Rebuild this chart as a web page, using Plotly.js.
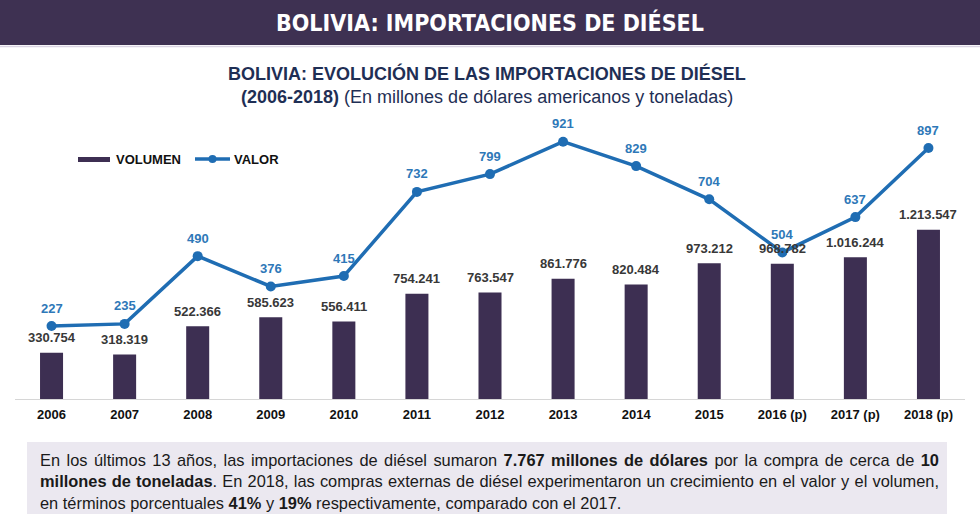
<!DOCTYPE html>
<html>
<head>
<meta charset="utf-8">
<script src="https://cdn.plot.ly/plotly-3.0.1.min.js"></script>
<style>
  html, body { margin: 0; padding: 0; background: #ffffff; }
  #chart { width: 980px; height: 529px; }
</style>
</head>
<body>
<div id="chart"></div>
<script>
// Bolivia diesel imports, 2006-2018
const years = ['2006', '2007', '2008', '2009', '2010', '2011', '2012', '2013', '2014', '2015', '2016 (p)', '2017 (p)', '2018 (p)'];
// Volume in tonnes
const volumen = [330754, 318319, 522366, 585623, 556411, 754241, 763547, 861776, 820484, 973212, 968782, 1016244, 1213547];
// Value in millions of US dollars
const valor = [227, 235, 490, 376, 415, 732, 799, 921, 829, 704, 504, 637, 897];

const W = 980, H = 529;
const M = { l: 15, r: 15, t: 110, b: 130 };
const PW = W - M.l - M.r, PH = H - M.t - M.b;
// pixel -> paper helpers for page decorations
const px = x => (x - M.l) / PW;
const py = y => (H - M.b - y) / PH;

const BAR = '#3d2f52';
const LINE = '#1f6db3';
const LINE_LBL = '#2e78b8';
const NAVY = '#1f2f55';
const FONT = 'Arial, Liberation Sans, sans-serif';

// thousands with a dot, e.g. 1.213.547
const fmt = n => String(n).replace(/\B(?=(\d{3})+(?!\d))/g, '.');

const traces = [
  {
    type: 'bar', name: 'VOLUMEN', x: years, y: volumen,
    marker: { color: BAR }, hoverinfo: 'x+y', showlegend: false
  },
  {
    type: 'scatter', mode: 'lines+markers', name: 'VALOR', x: years, y: valor, yaxis: 'y2',
    line: { color: LINE, width: 3.5 }, marker: { color: LINE, size: 10 },
    showlegend: false, cliponaxis: false
  }
];

const annotations = [];
// bar value labels (category index positions)
years.forEach((c, i) => annotations.push({
  x: i, y: volumen[i], xref: 'x', yref: 'y', text: fmt(volumen[i]), showarrow: false,
  yshift: 15, font: { family: FONT, size: 13, color: '#383838', weight: 'bold' }
}));
// line value labels
years.forEach((c, i) => annotations.push({
  x: i, y: valor[i], xref: 'x', yref: 'y2', text: String(valor[i]), showarrow: false,
  yshift: 18, font: { family: FONT, size: 13, color: LINE_LBL, weight: 'bold' }
}));

// page header
annotations.push({
  xref: 'paper', yref: 'paper', x: px(490), y: py(22), xanchor: 'center', yanchor: 'middle',
  text: '<b>BOLIVIA: IMPORTACIONES DE DIÉSEL</b>', showarrow: false,
  font: { family: 'Liberation Sans Narrow, DejaVu Sans Condensed, Arial Narrow, sans-serif', size: 23, color: '#ffffff' }
});
// chart title
annotations.push({
  xref: 'paper', yref: 'paper', x: px(487), y: py(73), xanchor: 'center', yanchor: 'middle',
  text: '<b>BOLIVIA: EVOLUCIÓN DE LAS IMPORTACIONES DE DIÉSEL</b>', showarrow: false,
  font: { family: FONT, size: 18, color: NAVY }
});
annotations.push({
  xref: 'paper', yref: 'paper', x: px(487), y: py(97), xanchor: 'center', yanchor: 'middle',
  text: '<b>(2006-2018)</b> (En millones de dólares americanos y toneladas)', showarrow: false,
  font: { family: FONT, size: 18, color: NAVY }
});
// legend labels
annotations.push({
  xref: 'paper', yref: 'paper', x: px(114), y: py(159), xanchor: 'left', yanchor: 'middle',
  text: '<b>VOLUMEN</b>', showarrow: false,
  font: { family: FONT, size: 13, color: '#111111' }
});
annotations.push({
  xref: 'paper', yref: 'paper', x: px(232), y: py(159), xanchor: 'left', yanchor: 'middle',
  text: '<b>VALOR</b>', showarrow: false,
  font: { family: FONT, size: 13, color: '#111111' }
});
// summary note
annotations.push({
  xref: 'paper', yref: 'paper', x: px(38), y: py(481), xanchor: 'left', yanchor: 'middle', align: 'left',
  text: 'En los últimos 13 años, las importaciones de diésel sumaron <b>7.767 millones de dólares</b> por la compra de cerca de <b>10</b><br>' +
        '<b>millones de toneladas</b>. En 2018, las compras externas de diésel experimentaron un crecimiento en el valor y el volumen,<br>' +
        'en términos porcentuales <b>41%</b> y <b>19%</b> respectivamente, comparado con el 2017.',
  showarrow: false,
  font: { family: FONT, size: 16.4, color: '#1a1a1a' }
});

const shapes = [
  // header band
  { type: 'rect', xref: 'paper', yref: 'paper', x0: px(0), x1: px(W), y0: py(45), y1: py(0),
    fillcolor: '#3e3152', line: { width: 0 }, layer: 'below' },
  { type: 'line', xref: 'paper', yref: 'paper', x0: px(0), x1: px(W), y0: py(46.5), y1: py(46.5),
    line: { color: '#d9d3e2', width: 1.5 } },
  // note box
  { type: 'rect', xref: 'paper', yref: 'paper', x0: px(27), x1: px(947), y0: py(514), y1: py(442),
    fillcolor: '#ebe8f0', line: { width: 0 }, layer: 'below' },
  // legend swatches
  { type: 'rect', xref: 'paper', yref: 'paper', x0: px(78), x1: px(110), y0: py(162), y1: py(157),
    fillcolor: BAR, line: { width: 0 } },
  { type: 'line', xref: 'paper', yref: 'paper', x0: px(195), x1: px(230), y0: py(159), y1: py(159),
    line: { color: LINE, width: 3.5 } },
  { type: 'circle', xref: 'paper', yref: 'paper', x0: px(208.5), x1: px(216.5), y0: py(163), y1: py(155),
    fillcolor: LINE, line: { width: 0 } }
];

const layout = {
  width: W, height: H,
  margin: M,
  paper_bgcolor: '#ffffff', plot_bgcolor: 'rgba(0,0,0,0)',
  separators: ',.',
  showlegend: false,
  bargap: 0.685,
  xaxis: {
    type: 'category', range: [-0.5, years.length - 0.5], showgrid: false, zeroline: false,
    showline: true, linecolor: '#d6d6d6', linewidth: 1,
    ticks: '', ticklabelstandoff: 3,
    tickfont: { family: FONT, size: 13, color: '#111111', weight: 'bold' },
    fixedrange: true
  },
  yaxis: { range: [0, 2071700], visible: false, showgrid: false, zeroline: false, fixedrange: true },
  yaxis2: { range: [-47.8, 1040.3], overlaying: 'y', visible: false, showgrid: false, zeroline: false, fixedrange: true },
  annotations: annotations,
  shapes: shapes
};

// Justify the first two lines of the note to the box's text width
function justifyNote(gd) {
  const target = 937 - 38;
  gd.querySelectorAll('.annotation-text').forEach(t => {
    const lines = t.querySelectorAll('tspan.line');
    if (lines.length !== 3) return;
    for (let k = 0; k < 2; k++) {
      const ln = lines[k];
      const spaces = (ln.textContent.match(/ /g) || []).length;
      const w = ln.getComputedTextLength();
      if (spaces > 0 && w < target) ln.style.wordSpacing = ((target - w) / spaces) + 'px';
    }
  });
}

Plotly.newPlot('chart', traces, layout, { displayModeBar: false, staticPlot: true })
  .then(justifyNote);
</script>
</body>
</html>
